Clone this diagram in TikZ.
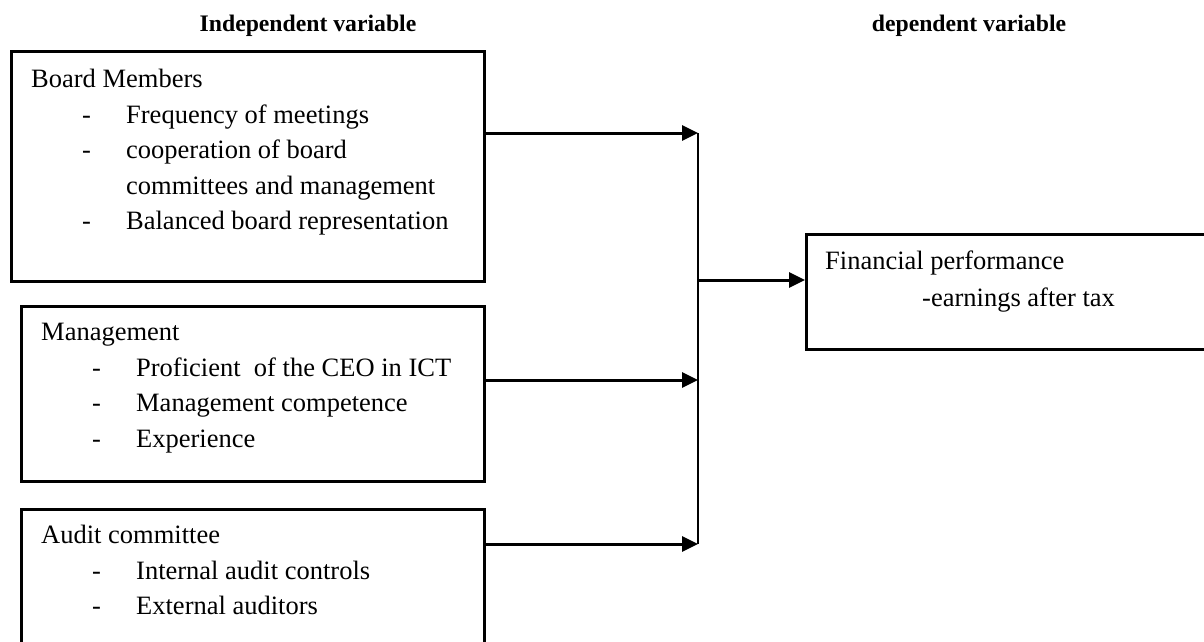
\documentclass[tikz,border=0pt]{standalone}
\usepackage{fontspec}
\setmainfont{Liberation Serif}
\usetikzlibrary{positioning,arrows.meta}

\newcommand{\dashitem}{\hspace*{51pt}\makebox[44pt][l]{-}}

\begin{document}
\begin{tikzpicture}[x=1pt, y=-1pt]
	\tikzstyle{frame} = [rectangle, draw=black, line width=2.6pt, anchor=north west, inner sep=0pt];
	\tikzstyle{heading} = [font=\bfseries\fontsize{23.7}{28}\selectfont, anchor=base, inner sep=0pt];
	\tikzstyle{content} = [align=left, anchor=north west, inner sep=0pt, font=\fontsize{26.5}{35.5}\selectfont];
	\tikzstyle{feed} = [draw=black, line width=3pt, -{Triangle[length=16pt, width=15pt]}];
	\tikzstyle{spine} = [draw=black, line width=2.4pt];

	\useasboundingbox (0,0) rectangle (1204,642);

	% column titles
	\node[heading](indep title) at (308,32){Independent variable};
	\node[heading](dep title) at (969,32){dependent variable};

	% boxes
	\node[frame, minimum width=473pt, minimum height=230pt](board) at (10,50){};
	\node[frame, minimum width=463pt, minimum height=175pt](mgmt) at (20,305){};
	\node[frame, minimum width=463pt, minimum height=160pt](audit) at (20,508){};
	\node[frame, minimum width=420pt, minimum height=115pt](finance) at (805,233){};

	\node[content](board text) at ([xshift=21pt, yshift=-19pt]board.north west){Board Members\\
		\dashitem Frequency of meetings\\
		\dashitem cooperation of board\\
		\hspace*{95pt}committees and management\\
		\dashitem Balanced board representation};
	\node[content](mgmt text) at ([xshift=21pt, yshift=-18pt]mgmt.north west){Management\\
		\dashitem Proficient\ \ of the CEO in ICT\\
		\dashitem Management competence\\
		\dashitem Experience};
	\node[content](audit text) at ([xshift=21pt, yshift=-17pt]audit.north west){Audit committee\\
		\dashitem Internal audit controls\\
		\dashitem External auditors};
	\node[content](finance text) at ([xshift=20pt, yshift=-18pt]finance.north west){Financial performance\\[1.5pt]
		\hspace*{97pt}-earnings after tax};

	% connectors
	\coordinate (join top) at (698,133);
	\coordinate (join mid) at (698,280);
	\coordinate (join mgmt) at (698,380);
	\coordinate (join bottom) at (698,544);

	\draw[feed] (board.east |- join top) -- (join top);
	\draw[feed] (mgmt.east |- join mgmt) -- (join mgmt);
	\draw[feed] (audit.east |- join bottom) -- (join bottom);
	\draw[spine] (join top) -- (join bottom);
	\draw[feed] (join mid) -- (finance.west |- join mid);
\end{tikzpicture}
\end{document}
